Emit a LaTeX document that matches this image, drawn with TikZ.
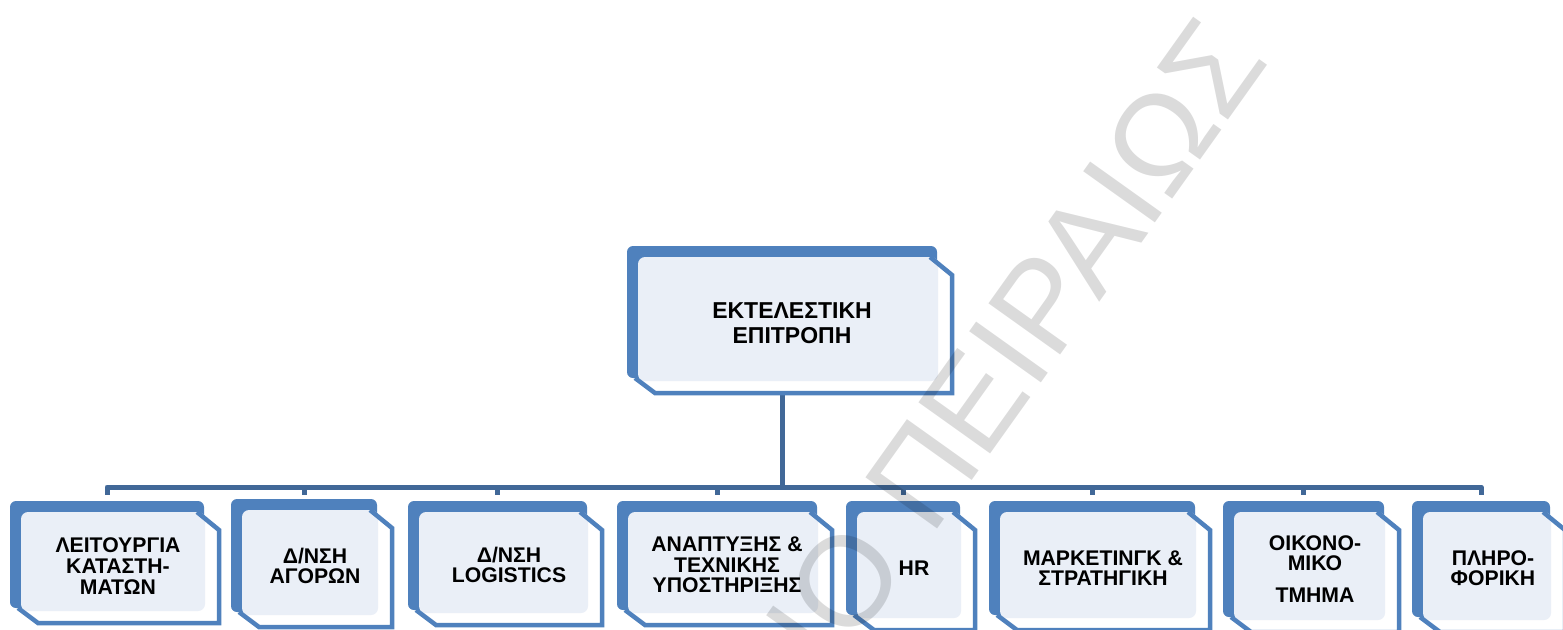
\documentclass[tikz,border=0pt]{standalone}
\usepackage{fontspec}
\setmainfont{Liberation Sans}
\definecolor{boxblue}{RGB}{79,129,189}
\definecolor{boxfill}{RGB}{234,239,247}
\definecolor{connblue}{RGB}{65,104,152}
\tikzset{
  conn/.style={connblue, line width=2.5pt, line join=round},
  lblsmall/.style={inner sep=0pt, align=center, font=\fontsize{10.6}{10.3}\selectfont\bfseries},
  lblbig/.style={inner sep=0pt, align=center, font=\fontsize{11.5}{12.5}\selectfont\bfseries},
  wmark/.style={inner sep=0pt, anchor=base east, rotate=54.5, text=black, text opacity=0.14, font=\fontsize{64}{64}\selectfont}
}
% #1 name, #2 x0, #3 y0, #4 x1, #5 y1, #6 text position, #7 label style, #8 text
\newcommand\orgbox[8]{%
  \fill[boxblue, rounded corners=3pt] (#2,#3) rectangle (#4,#5);
  \fill[boxfill, rounded corners=3.5pt] ({#2+11},{#3+11}) rectangle ({#4+1},{#5+3});
  \draw[boxblue, line width=2.25pt, line join=miter]
    ({#4-7},{#3+11}) -- ({#4+15},{#3+29}) -- ({#4+15},{#5+15}) -- ({#2+28},{#5+15}) -- ({#2+8},{#5});
  \node[#7] (#1) at (#6) {#8};
  \coordinate (#1-top) at ({(#2+#4)/2},{#3-6});
  \coordinate (#1-bot) at ({(#2+#4)/2},{#5+15});
}
\begin{document}
\begin{tikzpicture}[x=0.5pt, y=-0.5pt]
\useasboundingbox (0,0) rectangle (1563,629);
\fill[white] (0,0) rectangle (1563,629);
% connector anchors (coordinates only)
\coordinate (top-bot) at (782,393);
\coordinate (bus) at (782,487);
\coordinate (b1-top) at (107,495);
\coordinate (b2-top) at (304,495);
\coordinate (b3-top) at (497.5,495);
\coordinate (b4-top) at (717,495);
\coordinate (b5-top) at (903,495);
\coordinate (b6-top) at (1092,495);
\coordinate (b7-top) at (1303.5,495);
\coordinate (b8-top) at (1481,495);
% connectors (behind the boxes)
\foreach \c in {b1,b2,b3,b4,b5,b6,b7,b8}{
  \draw[conn] (top-bot) -- (bus) -| (\c-top);
}
% boxes
\orgbox{top}{627}{246}{937}{378}{792,323}{lblbig}{ΕΚΤΕΛΕΣΤΙΚΗ\\ΕΠΙΤΡΟΠΗ}
\orgbox{b1}{10}{501}{204}{608}{118,566}{lblsmall}{ΛΕΙΤΟΥΡΓΙΑ\\ΚΑΤΑΣΤΗ-\\ΜΑΤΩΝ}
\orgbox{b2}{231}{499}{377}{612}{315,566}{lblsmall}{Δ/ΝΣΗ\\ΑΓΟΡΩΝ}
\orgbox{b3}{408}{501}{587}{610}{509,565}{lblsmall}{Δ/ΝΣΗ\\LOGISTICS}
\orgbox{b4}{617}{501}{817}{610}{727,565}{lblsmall}{ΑΝΑΠΤΥΞΗΣ \&\\ΤΕΧΝΙΚΗΣ\\ΥΠΟΣΤΗΡΙΞΗΣ}
\orgbox{b5}{846}{501}{960}{615}{914,568}{lblsmall}{HR}
\orgbox{b6}{989}{501}{1195}{615}{1103,568}{lblsmall}{ΜΑΡΚΕΤΙΝΓΚ \&\\ΣΤΡΑΤΗΓΙΚΗ}
\orgbox{b7}{1223}{501}{1384}{617}{1315,569}{lblsmall}{ΟΙΚΟΝΟ-\\ΜΙΚΟ\\[5.5pt]ΤΜΗΜΑ}
\orgbox{b8}{1412}{501}{1550}{617}{1493,568}{lblsmall}{ΠΛΗΡΟ-\\ΦΟΡΙΚΗ}
% watermark
\begin{scope}
\clip (0,0) rectangle (1563,629);
\node[wmark] (wm) at (1271,61) {ΠΑΝΕΠΙΣΤΗΜΙΟ ΠΕΙΡΑΙΩΣ};
\end{scope}
\end{tikzpicture}
\end{document}
